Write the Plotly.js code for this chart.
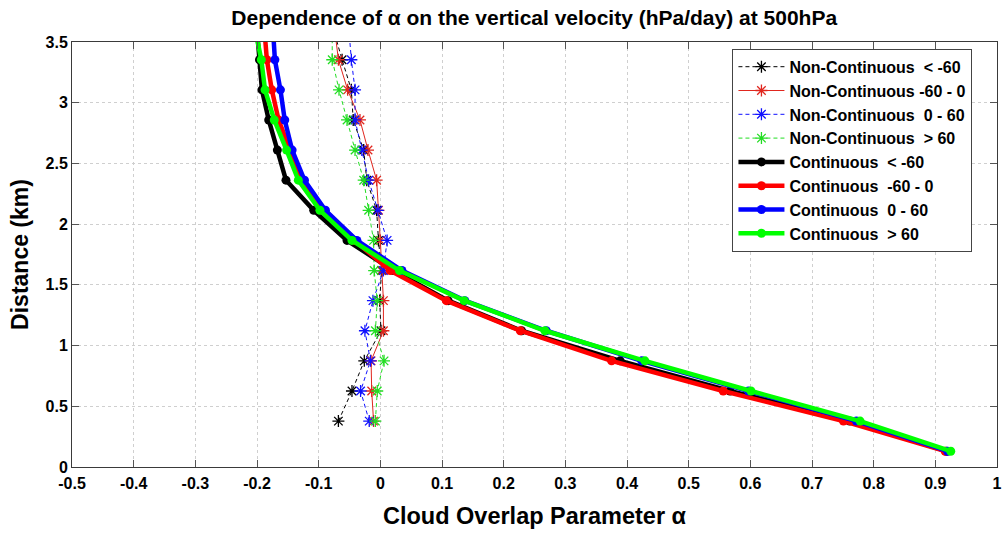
<!DOCTYPE html>
<html>
<head>
<meta charset="utf-8">
<script src="https://cdn.plot.ly/plotly-3.0.1.min.js"></script>
<style>
html,body{margin:0;padding:0;background:#fff;}
#chart{width:1008px;height:539px;}
</style>
</head>
<body>
<div id="chart"></div>
<script>
// Heights (km) of the levels
const heightsCont = [0.13, 0.378, 0.626, 0.874, 1.122, 1.37, 1.618, 1.866, 2.114, 2.362, 2.61, 2.858, 3.106, 3.354, 3.602];
const heightsNonCont = [0.378, 0.626, 0.874, 1.122, 1.37, 1.618, 1.866, 2.114, 2.362, 2.61, 2.858, 3.106, 3.354, 3.602];

// Non-continuous alpha values
const noncLtM60 = [-0.068, -0.046, -0.026, 0.001, -0.001, 0.002, -0.003, -0.006, -0.022, -0.027, -0.044, -0.047, -0.062, -0.076];
const noncM60to0 = [-0.011, -0.014, -0.015, 0.005, 0.005, 0.003, 0.000, -0.003, -0.006, -0.020, -0.033, -0.053, -0.068, -0.074];
const nonc0to60 = [-0.018, -0.032, -0.016, -0.025, -0.012, 0.005, 0.011, -0.004, -0.019, -0.030, -0.041, -0.041, -0.047, -0.051];
const noncGt60 = [-0.008, -0.005, 0.006, -0.008, -0.005, -0.010, -0.011, -0.019, -0.027, -0.041, -0.054, -0.067, -0.078, -0.078];

// Continuous alpha values
const contLtM60 = [0.918, 0.761, 0.567, 0.389, 0.229, 0.110, 0.021, -0.054, -0.108, -0.153, -0.167, -0.181, -0.192, -0.196, -0.200];
const contM60to0 = [0.916, 0.751, 0.556, 0.375, 0.227, 0.107, 0.016, -0.042, -0.094, -0.126, -0.146, -0.165, -0.176, -0.184, -0.188];
const cont0to60 = [0.920, 0.772, 0.597, 0.424, 0.269, 0.137, 0.035, -0.038, -0.089, -0.123, -0.143, -0.155, -0.162, -0.171, -0.174];
const contGt60 = [0.925, 0.778, 0.601, 0.429, 0.267, 0.136, 0.031, -0.046, -0.098, -0.133, -0.152, -0.172, -0.187, -0.193, -0.203];

const seriesNames = [
  'Non-Continuous\u00a0\u00a0&lt; -60',
  'Non-Continuous -60 - 0',
  'Non-Continuous\u00a0\u00a00 - 60',
  'Non-Continuous\u00a0\u00a0&gt; 60',
  'Continuous\u00a0\u00a0&lt; -60',
  'Continuous\u00a0\u00a0-60 - 0',
  'Continuous\u00a0\u00a00 - 60',
  'Continuous\u00a0\u00a0&gt; 60'
];

const xTickVals = [-0.5, -0.4, -0.3, -0.2, -0.1, 0, 0.1, 0.2, 0.3, 0.4, 0.5, 0.6, 0.7, 0.8, 0.9, 1];
const xTickText = ['-0.5', '-0.4', '-0.3', '-0.2', '-0.1', '0', '0.1', '0.2', '0.3', '0.4', '0.5', '0.6', '0.7', '0.8', '0.9', '1'];
const yTickVals = [0, 0.5, 1, 1.5, 2, 2.5, 3, 3.5];
const yTickText = ['0', '0.5', '1', '1.5', '2', '2.5', '3', '3.5'];

const FONT = 'Liberation Sans, Arial, sans-serif';

function nonc(x, name, color, dash) {
  return {
    type: 'scatter', mode: 'lines+markers', x: x, y: heightsNonCont, name: name,
    line: {color: color, width: 1, dash: dash},
    marker: {symbol: 'asterisk-open', size: 10, color: color, line: {color: color, width: 1.3}}
  };
}
function cont(x, name, color) {
  return {
    type: 'scatter', mode: 'lines+markers', x: x, y: heightsCont, name: name,
    line: {color: color, width: 4.5},
    marker: {symbol: 'circle', size: 9, color: color}
  };
}

const data = [
  nonc(noncLtM60, seriesNames[0], '#000000', '4px,3px'),
  nonc(noncM60to0, seriesNames[1], '#e0261e', 'solid'),
  nonc(nonc0to60, seriesNames[2], '#1010ff', '4px,3px'),
  nonc(noncGt60, seriesNames[3], '#22dd22', '4px,3px'),
  cont(contLtM60, seriesNames[4], '#000000'),
  cont(contM60to0, seriesNames[5], '#ff0000'),
  cont(cont0to60, seriesNames[6], '#0000ff'),
  cont(contGt60, seriesNames[7], '#00ff00')
];

const axisCommon = {
  showline: true, linecolor: '#3a3a3a', linewidth: 1, mirror: 'allticks',
  ticks: 'inside', ticklen: 7, tickcolor: '#555', tickwidth: 1,
  showgrid: true, gridcolor: '#cfcfcf', griddash: 'dot', gridwidth: 1,
  zeroline: false,
  tickfont: {family: FONT, size: 16, color: '#000', weight: 'bold'}
};

const layout = {
  width: 1008, height: 539,
  margin: {l: 72, r: 11, t: 42, b: 72},
  paper_bgcolor: '#fff', plot_bgcolor: '#fff',
  title: {
    text: 'Dependence of \u03b1 on the vertical velocity (hPa/day) at 500hPa',
    font: {family: FONT, size: 21, color: '#000', weight: 'bold'},
    x: 0.53, xanchor: 'center', y: 0.967, yanchor: 'middle'
  },
  xaxis: Object.assign({}, axisCommon, {
    range: [-0.5, 1], tickmode: 'array', tickvals: xTickVals, ticktext: xTickText,
    ticklabelstandoff: 2,
    title: {text: 'Cloud Overlap Parameter \u03b1', font: {family: FONT, size: 23.5, color: '#000', weight: 'bold'}, standoff: 16}
  }),
  yaxis: Object.assign({}, axisCommon, {
    range: [0, 3.5], tickmode: 'array', tickvals: yTickVals, ticktext: yTickText,
    title: {text: 'Distance (km)', font: {family: FONT, size: 23, color: '#000', weight: 'bold'}, standoff: 10}
  }),
  showlegend: true,
  legend: {
    x: 0.714, y: 0.984, xanchor: 'left', yanchor: 'top',
    bgcolor: '#fff', bordercolor: '#444', borderwidth: 1,
    font: {family: FONT, size: 16, color: '#000', weight: 'bold'},
    tracegroupgap: 0, itemwidth: 46
  }
};

Plotly.newPlot('chart', data, layout, {displayModeBar: false, staticPlot: true});
</script>
</body>
</html>
